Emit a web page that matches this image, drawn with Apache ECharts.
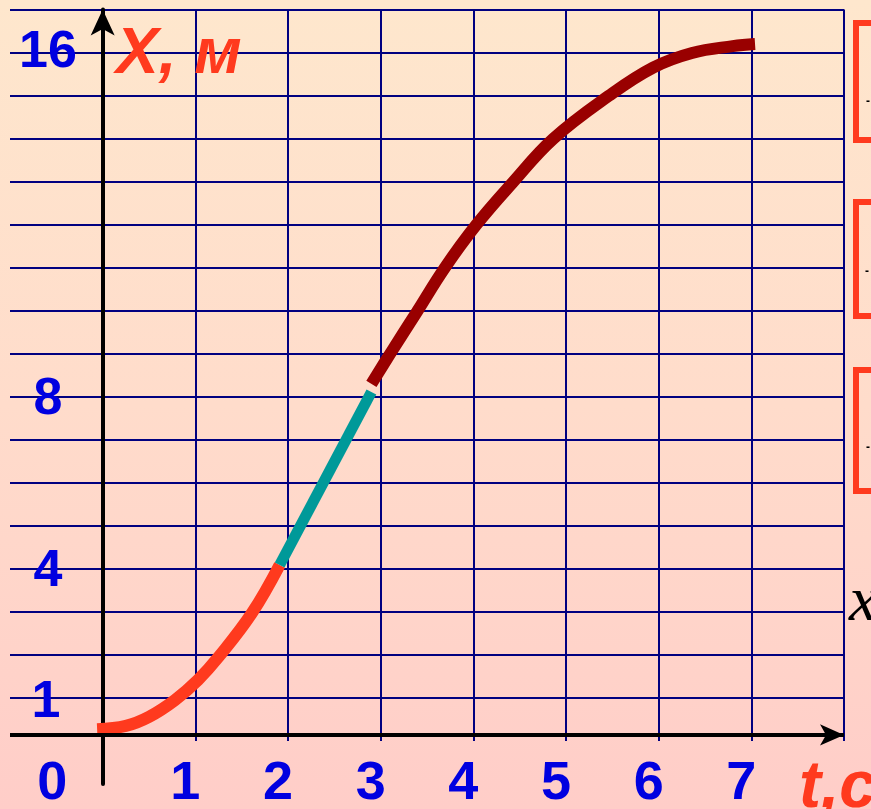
<!DOCTYPE html>
<html>
<head>
<meta charset="utf-8">
<script src="https://cdn.jsdelivr.net/npm/echarts@6/dist/echarts.min.js"></script>
<style>
  html, body { margin: 0; padding: 0; }
  #chart { width: 871px; height: 809px; }
</style>
</head>
<body>
<div id="chart"></div>
<script>
// ---- data ----
// t (s), X (m)
const accelPhase = [[-0.06, 0.27], [0.25, 0.35], [0.5, 0.56], [0.78, 0.95], [1.03, 1.42], [1.25, 1.95], [1.61, 2.97], [1.91, 4.09]];
const uniformPhase = [[1.91, 4.09], [2.9, 8.11]];
const decelPhase = [[2.9, 8.3], [3.1, 8.99], [3.39, 9.97], [3.69, 10.99], [4.03, 11.99], [4.43, 12.99], [4.86, 13.99], [5.46, 14.99], [5.94, 15.65], [6.36, 15.99], [6.8, 16.15], [7.04, 16.2]];
const xTickValues = [0, 1, 2, 3, 4, 5, 6, 7];
const yTickValues = [1, 4, 8, 16];
const xAxisTitle = 't,c';
const yAxisTitle = 'X, м';
const timeAxisLevel = 0.14; // where the drawn t-axis crosses the X scale

// ---- styles ----
const gridBlue = '#000080';
const labelBlue = '#0000e0';
const titleRed = '#ff3a1e';
const font = '"Liberation Sans", Arial, sans-serif';

const chart = echarts.init(document.getElementById('chart'));

const option = {
  animation: false,
  backgroundColor: {
    type: 'linear', x: 0, y: 0, x2: 0, y2: 1,
    colorStops: [
      { offset: 0, color: '#fee7cd' },
      { offset: 0.5, color: '#ffdccb' },
      { offset: 1, color: '#ffcdc8' }
    ]
  },
  grid: [
    { left: 10, right: 27, top: 9.5, bottom: 25, containLabel: false, outerBoundsMode: 'none' },
    { left: 10, right: 27, top: 9.5, bottom: 68, containLabel: false, outerBoundsMode: 'none' }
  ],
  xAxis: [
    {
      gridIndex: 0, type: 'value', min: -1, max: 8, interval: 1,
      axisLine: { show: false, onZero: false },
      axisTick: { show: false },
      splitLine: { show: false },
      axisLabel: {
        margin: 0,
        verticalAlign: 'middle',
        formatter: function (v) {
          if (xTickValues.indexOf(v) < 0) return '';
          return v === 0 ? '{z|' + v + '}' : '{n|' + v + '}';
        },
        rich: {
          n: { fontSize: 54, fontWeight: 'bold', fontFamily: font, color: labelBlue, padding: [0, 20, 0, 0] },
          z: { fontSize: 54, fontWeight: 'bold', fontFamily: font, color: labelBlue, padding: [0, 101, 0, 0] }
        }
      }
    },
    {
      gridIndex: 1, type: 'value', min: -1, max: 8, interval: 1,
      axisLine: { show: false, onZero: false },
      axisTick: { show: false },
      axisLabel: { show: false },
      splitLine: { show: true, showMinLine: false, showMaxLine: true, lineStyle: { color: gridBlue, width: 2 } }
    }
  ],
  yAxis: [
    {
      gridIndex: 0, type: 'value', min: -1, max: 17, interval: 1, z: 1,
      axisLine: {
        show: true, onZero: true,
        symbol: ['none', 'arrow'], symbolSize: [18, 26],
        lineStyle: { color: '#000', width: 4 }
      },
      axisTick: { show: false },
      splitLine: { show: false },
      axisLabel: {
        margin: -38,
        align: 'center',
        verticalAlign: 'middle',
        formatter: function (v) {
          if (yTickValues.indexOf(v) < 0) return '';
          if (v === 16) return '{s|' + v + '}';
          if (v === 1) return '{o|' + v + '}';
          return '{n|' + v + '}';
        },
        rich: {
          n: { fontSize: 52, fontWeight: 'bold', fontFamily: font, color: labelBlue, padding: [6, 0, 0, 0] },
          o: { fontSize: 52, fontWeight: 'bold', fontFamily: font, color: labelBlue, padding: [10, 4, 0, 0] },
          s: { fontSize: 52, fontWeight: 'bold', fontFamily: font, color: labelBlue, padding: [0, 0, 0, 0] }
        }
      }
    },
    {
      gridIndex: 1, type: 'value', min: 0, max: 17, interval: 1,
      axisLine: { show: false, onZero: false },
      axisTick: { show: false },
      axisLabel: { show: false },
      splitLine: { show: true, showMinLine: false, showMaxLine: true, lineStyle: { color: gridBlue, width: 2 } }
    }
  ],
  series: [
    {
      type: 'line', xAxisIndex: 0, yAxisIndex: 0, data: [], z: 1, silent: true,
      markLine: {
        silent: true,
        symbol: ['none', 'arrow'],
        symbolSize: [16, 24],
        label: { show: false },
        lineStyle: { color: '#000', width: 4, type: 'solid' },
        emphasis: { disabled: true },
        data: [{ yAxis: timeAxisLevel }]
      }
    },
    {
      type: 'line', xAxisIndex: 0, yAxisIndex: 0, z: 3,
      data: accelPhase, smooth: 0.4, showSymbol: false,
      lineStyle: { color: '#ff3a1e', width: 12, cap: 'butt' }
    },
    {
      type: 'line', xAxisIndex: 0, yAxisIndex: 0, z: 3,
      data: uniformPhase, showSymbol: false,
      lineStyle: { color: '#009999', width: 11, cap: 'butt' }
    },
    {
      type: 'line', xAxisIndex: 0, yAxisIndex: 0, z: 3,
      data: decelPhase, smooth: 0.4, showSymbol: false,
      lineStyle: { color: '#990000', width: 12, cap: 'butt' }
    }
  ],
  graphic: [
    { type: 'text', x: 116, y: 55, z: 10, style: { text: yAxisTitle, fill: titleRed, font: 'italic bold 64px ' + font, verticalAlign: 'middle', textVerticalAlign: 'middle' } },
    { type: 'text', x: 799, y: 789, z: 10, style: { text: xAxisTitle, fill: titleRed, font: 'italic bold 66px ' + font, verticalAlign: 'middle', textVerticalAlign: 'middle' } },
    { type: 'rect', z: 10, shape: { x: 856, y: 23, width: 40, height: 117 }, style: { fill: 'none', stroke: titleRed, lineWidth: 6 } },
    { type: 'rect', z: 10, shape: { x: 856, y: 202, width: 40, height: 114 }, style: { fill: 'none', stroke: titleRed, lineWidth: 6 } },
    { type: 'rect', z: 10, shape: { x: 856, y: 370, width: 40, height: 121 }, style: { fill: 'none', stroke: titleRed, lineWidth: 6 } },
    { type: 'text', x: 866, y: 102, z: 10, style: { text: '-', fill: '#000', font: 'bold 12px ' + font, verticalAlign: 'middle', textVerticalAlign: 'middle' } },
    { type: 'text', x: 865, y: 272, z: 10, style: { text: '-', fill: '#000', font: 'bold 12px ' + font, verticalAlign: 'middle', textVerticalAlign: 'middle' } },
    { type: 'text', x: 866, y: 448, z: 10, style: { text: '-', fill: '#000', font: 'bold 12px ' + font, verticalAlign: 'middle', textVerticalAlign: 'middle' } },
    { type: 'text', x: 849, y: 603, z: 10, style: { text: 'x', fill: '#000', font: 'italic 64px "Liberation Serif", "Times New Roman", serif', verticalAlign: 'middle', textVerticalAlign: 'middle' } }
  ]
};

chart.setOption(option);
</script>
</body>
</html>
